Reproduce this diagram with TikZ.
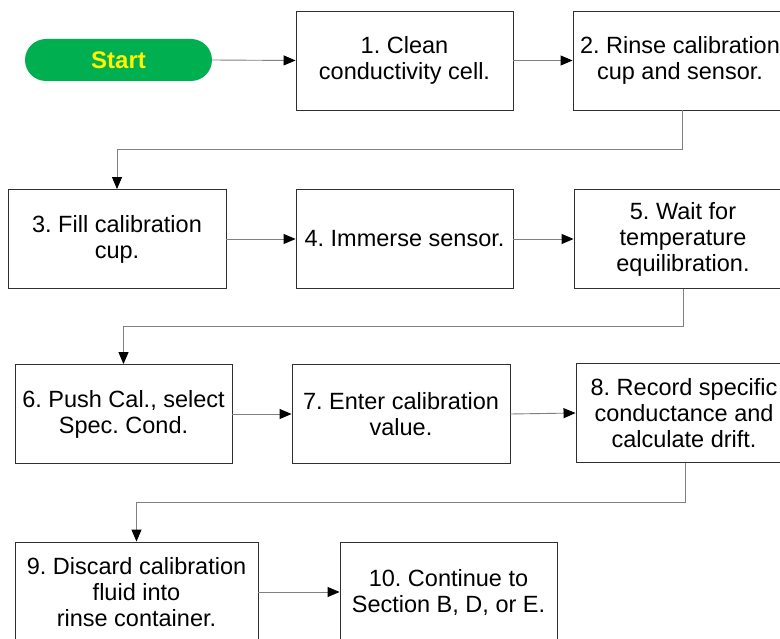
\documentclass[tikz,border=0pt]{standalone}
\usepackage{fontspec}
\setmainfont{Liberation Sans}
\usetikzlibrary{arrows.meta}
\definecolor{startgreen}{HTML}{00B050}
\definecolor{lineg}{HTML}{808080}
\definecolor{boxb}{HTML}{303030}
\frenchspacing
\tikzset{
  stepbox/.style={draw=boxb, line width=0.9pt, fill=white, minimum height=99pt, align=center, inner sep=0pt,
    font=\fontsize{23.5}{26}\selectfont},
  startpill/.style={fill=startgreen, rounded corners=21pt, minimum width=187pt, minimum height=42pt,
    text=yellow, font=\fontsize{24}{26}\selectfont\bfseries, inner sep=0pt},
  conn/.style={draw=lineg, line width=0.9pt, -{Triangle[length=12pt,width=10pt,color=black]}}
}
\begin{document}
\begin{tikzpicture}[x=1pt,y=-1pt]
\useasboundingbox (0,0) rectangle (780,639);
\node[startpill] (s) at (118.5,60) {Start};
\node[stepbox, minimum width=217pt] (b1) at (404.5,60.5) {1. Clean\\conductivity cell.};
\node[stepbox, minimum width=214pt] (b2) at (680,60.5) {2. Rinse calibration\\cup and sensor.};
\node[stepbox, minimum width=218pt] (b3) at (117,239) {3. Fill calibration\\cup.};
\node[stepbox, minimum width=217pt] (b4) at (404.5,239) {4. Immerse sensor.};
\node[stepbox, minimum width=218pt] (b5) at (683,239) {5. Wait for\\temperature\\equilibration.};
\node[stepbox, minimum width=217pt] (b6) at (123.5,414) {6. Push Cal., select\\Spec. Cond.};
\node[stepbox, minimum width=218pt] (b7) at (401,414) {7. Enter calibration\\value.};
\node[stepbox, minimum width=216pt] (b8) at (684,413) {8. Record specific\\conductance and\\calculate drift.};
\node[stepbox, minimum width=243pt, minimum height=100pt] (b9) at (136.5,592) {9. Discard calibration\\fluid into\\rinse container.};
\node[stepbox, minimum width=217pt, minimum height=100pt] (b10) at (448.5,592) {10. Continue to\\Section B, D, or E.};
\coordinate (c2) at (682,149);
\coordinate (c5) at (683,326);
\coordinate (c8) at (685,502);
\draw[conn] (s.east) -- (b1.west);
\draw[conn] (b1.east) -- (b2.west);
\draw[conn] (b2.south -| c2) -- (c2) -| (b3.north);
\draw[conn] (b3.east) -- (b4.west);
\draw[conn] (b4.east) -- (b5.west);
\draw[conn] (b5.south -| c5) -- (c5) -| (b6.north);
\draw[conn] (b6.east) -- (b7.west);
\draw[conn] (b7.east) -- (b8.west);
\draw[conn] (b8.south -| c8) -- (c8) -| (b9.north);
\draw[conn] (b9.east) -- (b10.west);
\end{tikzpicture}
\end{document}
